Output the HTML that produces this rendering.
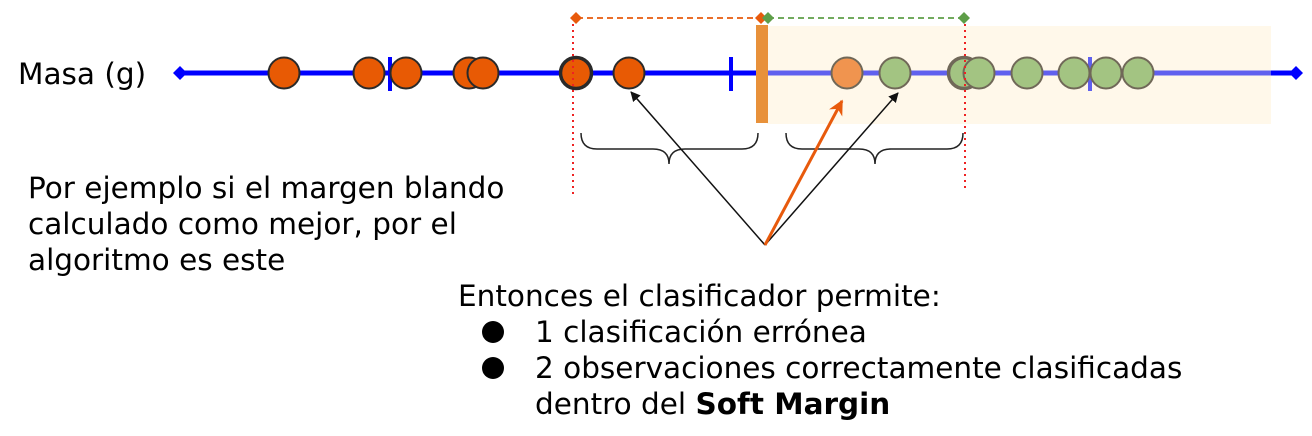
<!DOCTYPE html>
<html><head><meta charset="utf-8"><style>
body{margin:0;background:#fff;width:1312px;height:431px;overflow:hidden}
svg text{font-family:"DejaVu Sans","Liberation Sans",sans-serif;fill:#000}
</style></head><body>
<svg width="1312" height="431" viewBox="0 0 1312 431">
<defs>
<marker id="ab" viewBox="0 0 10 10" refX="9" refY="5" markerWidth="10" markerHeight="10" markerUnits="userSpaceOnUse" orient="auto"><path d="M0,0L10,5L0,10z" fill="#111"/></marker>
<marker id="ao" viewBox="0 0 10 10" refX="9" refY="5" markerWidth="5" markerHeight="5" orient="auto"><path d="M0,0L10,5L0,10L3,5z" fill="#e85a0c"/></marker>
</defs>
<rect x="767" y="26" width="504" height="98" fill="#fff8ea"/>
<line x1="180" y1="73" x2="760" y2="73" stroke="#0000ff" stroke-width="5"/>
<line x1="767" y1="73" x2="1271" y2="73" stroke="#6060ee" stroke-width="5"/>
<line x1="1271" y1="73" x2="1292" y2="73" stroke="#0000ff" stroke-width="5"/>
<path d="M180,66L187,73L180,80L173,73z" fill="#0000ff"/>
<path d="M1296,66L1303,73L1296,80L1289,73z" fill="#0000ff"/>
<line x1="390" y1="57" x2="390" y2="91" stroke="#0000ff" stroke-width="4"/>
<line x1="731" y1="57" x2="731" y2="91" stroke="#0000ff" stroke-width="4"/>
<line x1="1090" y1="57" x2="1090" y2="91" stroke="#6060ee" stroke-width="4"/>
<rect x="756" y="25" width="12" height="98" fill="#e8913a"/>
<g fill="#e85a04" stroke="#2a2a2a" stroke-width="2">
<circle cx="284" cy="73" r="15.5"/><circle cx="369" cy="73" r="15.5"/><circle cx="406" cy="73" r="15.5"/>
<circle cx="469" cy="73" r="15.5"/><circle cx="483" cy="73" r="15.5"/>
<circle cx="576" cy="73" r="15.5" stroke-width="3.5"/><circle cx="629" cy="73" r="15.5"/>
</g>
<circle cx="847" cy="73" r="15.5" fill="#f0944f" stroke="#706858" stroke-width="2"/>
<g fill="#a3c482" stroke="#706858" stroke-width="2">
<circle cx="895" cy="73" r="15.5"/><circle cx="964" cy="73" r="15.5" stroke-width="3.5"/><circle cx="979" cy="73" r="15.5"/>
<circle cx="1027" cy="73" r="15.5"/><circle cx="1074" cy="73" r="15.5"/><circle cx="1106" cy="73" r="15.5"/><circle cx="1138" cy="73" r="15.5"/>
</g>
<line x1="573" y1="18" x2="573" y2="195" stroke="#ee2222" stroke-width="2" stroke-dasharray="2,4"/>
<line x1="965" y1="18" x2="965" y2="190" stroke="#ee2222" stroke-width="2" stroke-dasharray="2,4"/>
<line x1="577" y1="18" x2="760" y2="18" stroke="#e85a0c" stroke-width="1.8" stroke-dasharray="6,4"/>
<line x1="768" y1="18" x2="962" y2="18" stroke="#5e9e48" stroke-width="1.8" stroke-dasharray="6,4"/>
<path d="M576,12L582,18L576,24L570,18z" fill="#e85a0c"/>
<path d="M761,12L767,18L761,24L755,18z" fill="#e85a0c"/>
<path d="M768,12L774,18L768,24L762,18z" fill="#5e9e48"/>
<path d="M964,12L970,18L964,24L958,18z" fill="#5e9e48"/>
<path d="M581,133Q581,149 597,149L653,149Q669,149 669,164Q669,149 685,149L742,149Q758,149 758,133" fill="none" stroke="#222" stroke-width="1.5"/>
<path d="M786,133Q786,149 802,149L859,149Q875,149 875,164Q875,149 891,149L947,149Q963,149 963,133" fill="none" stroke="#222" stroke-width="1.5"/>
<line x1="765" y1="245" x2="631" y2="92" stroke="#111" stroke-width="1.5" marker-end="url(#ab)"/>
<line x1="765" y1="245" x2="898" y2="93" stroke="#111" stroke-width="1.5" marker-end="url(#ab)"/>
<line x1="765" y1="245" x2="842" y2="101" stroke="#e85a0c" stroke-width="3" marker-end="url(#ao)"/>
<text x="18" y="84" font-size="29.5">Masa (g)</text>
<text font-size="29.5"><tspan x="28" y="198">Por ejemplo si el margen blando</tspan><tspan x="28" y="234">calculado como mejor, por el</tspan><tspan x="28" y="270">algoritmo es este</tspan></text>
<text font-size="29.5"><tspan x="458" y="306">Entonces el clasificador permite:</tspan><tspan x="535" y="342">1 clasificación errónea</tspan><tspan x="535" y="378">2 observaciones correctamente clasificadas</tspan><tspan x="535" y="414">dentro del <tspan font-weight="bold">Soft Margin</tspan></tspan></text>
<circle cx="493" cy="332" r="11" fill="#000"/>
<circle cx="493" cy="368" r="11" fill="#000"/>
</svg>
</body></html>
